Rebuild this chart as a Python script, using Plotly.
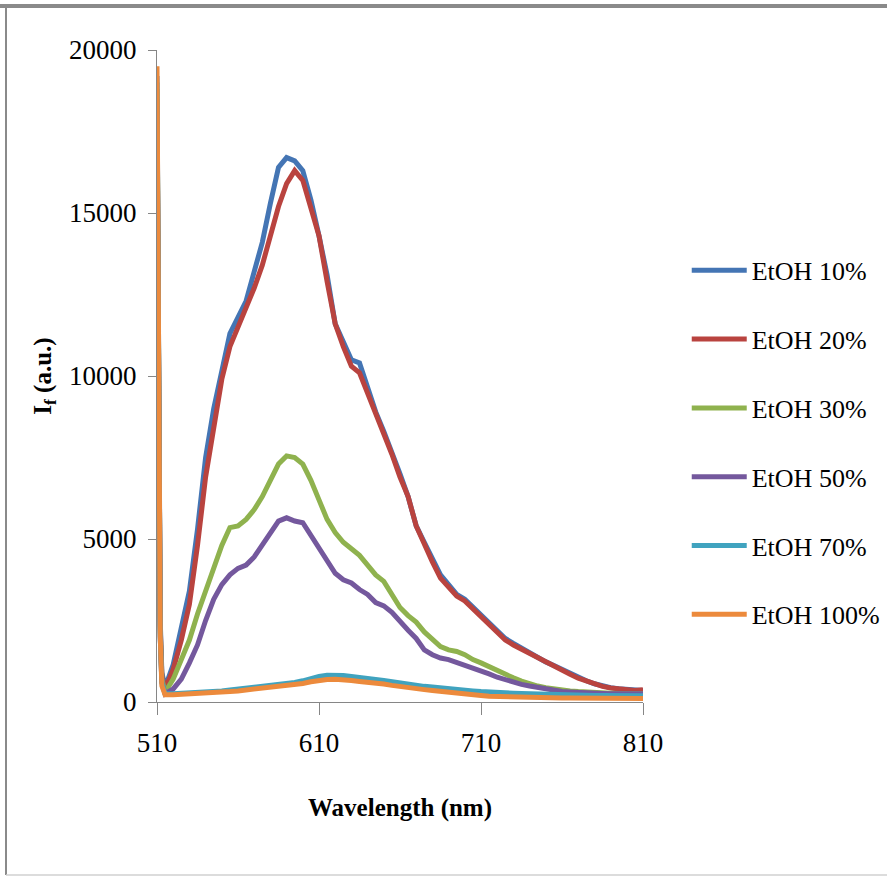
import plotly.graph_objects as go

wavelength = [510, 511, 512, 513, 515, 520, 525, 530, 535, 540, 545, 550, 555, 560, 565, 570, 575, 580, 585, 590,
              595, 600, 605, 610, 615, 620, 625, 630, 635, 640, 645, 650, 655, 660, 665, 670, 675, 680, 685, 690,
              695, 700, 705, 710, 715, 720, 725, 730, 735, 740, 745, 750, 755, 760, 765, 770, 775, 780, 785, 790,
              795, 800, 805, 810]

etoh_10 = [19200, 9000, 2500, 900, 450, 1150, 2200, 3400, 5300, 7500, 9000, 10200, 11300, 11800, 12300, 13200, 14100, 15300, 16400, 16700,
           16600, 16300, 15400, 14300, 13100, 11600, 11000, 10500, 10400, 9600, 8900, 8300, 7700, 7000, 6300, 5400, 4900, 4400, 3900, 3600,
           3300, 3150, 2900, 2700, 2450, 2150, 1950, 1800, 1650, 1520, 1380, 1230, 1120, 1000, 870, 750, 650, 560, 490, 440,
           410, 380, 360, 350]
etoh_20 = [18500, 8500, 2300, 800, 400, 1000, 1900, 3000, 4800, 6900, 8500, 9900, 10900, 11500, 12000, 12700, 13400, 14300, 15200, 15900,
           16300, 16000, 15200, 14300, 12900, 11600, 10900, 10300, 10100, 9500, 8800, 8200, 7600, 6900, 6300, 5400, 4800, 4300, 3800, 3500,
           3250, 3100, 2850, 2600, 2350, 2100, 1900, 1750, 1620, 1500, 1350, 1200, 1100, 980, 850, 730, 640, 550, 480, 430,
           400, 370, 350, 380]
etoh_30 = [18800, 8500, 2200, 700, 300, 700, 1300, 1900, 2700, 3400, 4200, 4800, 5350, 5400, 5600, 5900, 6300, 6800, 7300, 7550,
           7500, 7300, 6800, 6200, 5600, 5200, 4900, 4700, 4500, 4200, 3900, 3700, 3300, 2900, 2650, 2450, 2150, 1900, 1700, 1600,
           1550, 1450, 1300, 1200, 1080, 950, 820, 740, 640, 550, 490, 440, 400, 370, 340, 320, 300, 290, 280, 270,
           260, 250, 250, 260]
etoh_50 = [18300, 8000, 2000, 600, 250, 400, 700, 1200, 1750, 2500, 3150, 3600, 3900, 4100, 4200, 4450, 4800, 5150, 5550, 5650,
           5550, 5500, 5100, 4700, 4300, 3950, 3750, 3650, 3450, 3300, 3050, 2950, 2750, 2450, 2200, 1950, 1600, 1450, 1350, 1300,
           1220, 1130, 1050, 950, 860, 760, 680, 600, 540, 490, 450, 400, 350, 320, 310, 290, 280, 270, 260, 250,
           250, 240, 240, 250]
etoh_70 = [19000, 8000, 2000, 600, 250, 250, 260, 270, 280, 300, 320, 340, 370, 400, 430, 460, 480, 500, 520, 550,
           600, 650, 720, 780, 820, 830, 810, 780, 740, 720, 690, 660, 620, 580, 550, 510, 480, 460, 430, 400,
           380, 360, 340, 320, 300, 290, 280, 270, 260, 250, 240, 230, 220, 220, 210, 210, 200, 200, 200, 200,
           190, 190, 190, 190]
etoh_100 = [19500, 8500, 2000, 500, 220, 220, 230, 240, 250, 260, 280, 300, 320, 340, 370, 400, 420, 440, 460, 490,
            530, 570, 620, 660, 690, 700, 690, 660, 630, 610, 580, 550, 510, 470, 440, 410, 380, 350, 320, 300,
            270, 240, 220, 200, 180, 170, 160, 150, 140, 140, 130, 130, 120, 120, 120, 120, 110, 110, 110, 110,
            110, 110, 110, 110]

series_names = ["EtOH 10%", "EtOH 20%", "EtOH 30%", "EtOH 50%", "EtOH 70%", "EtOH 100%"]
series_values = [etoh_10, etoh_20, etoh_30, etoh_50, etoh_70, etoh_100]
colors = ["#4475b4", "#b9433f", "#8fb24e", "#74589d", "#40a3bf", "#ec8a3c"]

x_ticks = [510, 610, 710, 810]
y_ticks = [0, 5000, 10000, 15000, 20000]

fig = go.Figure()
for i, (name, vals, col) in enumerate(zip(series_names, series_values, colors)):
    fig.add_trace(go.Scatter(x=wavelength, y=vals, mode="lines", name=name,
                             legendgroup=f"g{i}",
                             line=dict(color=col, width=5)))

font_family = "Liberation Serif, Times New Roman, serif"

fig.update_layout(
    width=887, height=879,
    margin=dict(l=157, r=244, t=50, b=177, autoexpand=False),
    paper_bgcolor="white", plot_bgcolor="white",
    font=dict(family=font_family, color="black"),
    showlegend=True,
    legend=dict(x=1.09, y=0.698, xanchor="left", yanchor="top",
                font=dict(size=26, family=font_family),
                traceorder="grouped", tracegroupgap=32, itemwidth=55,
                bgcolor="rgba(0,0,0,0)"),
    xaxis=dict(range=[510, 810], tickvals=x_ticks, ticktext=[str(v) for v in x_ticks],
               showline=True, linecolor="#868686", linewidth=1,
               ticks="outside", ticklen=12, tickcolor="#868686",
               showgrid=False, zeroline=False, ticklabelstandoff=5,
               tickfont=dict(size=27),
               title=dict(text="<b>Wavelength (nm)</b>", font=dict(size=25), standoff=41)),
    yaxis=dict(range=[0, 20000], tickvals=y_ticks, ticktext=[str(v) for v in y_ticks],
               showline=True, linecolor="#868686", linewidth=1,
               ticks="outside", ticklen=8, tickcolor="#868686",
               showgrid=False, zeroline=False, ticklabelstandoff=6,
               tickfont=dict(size=27),
               title=dict(text="<b>I<sub>f</sub> (a.u.)</b>", font=dict(size=25), standoff=10)),
    shapes=[
        dict(type="line", xref="paper", yref="paper", x0=-0.33, x1=1.55, y0=1.0675, y1=1.0675,
             line=dict(color="#8a8a8a", width=4)),
        dict(type="line", xref="paper", yref="paper", x0=-0.3107, x1=-0.3107, y0=1.07, y1=-0.2653,
             line=dict(color="#8a8a8a", width=2)),
        dict(type="line", xref="paper", yref="paper", x0=-0.3107, x1=1.55, y0=-0.2653, y1=-0.2653,
             line=dict(color="#d0d0d0", width=1.5)),
    ],
)

fig.write_html("out.html")
